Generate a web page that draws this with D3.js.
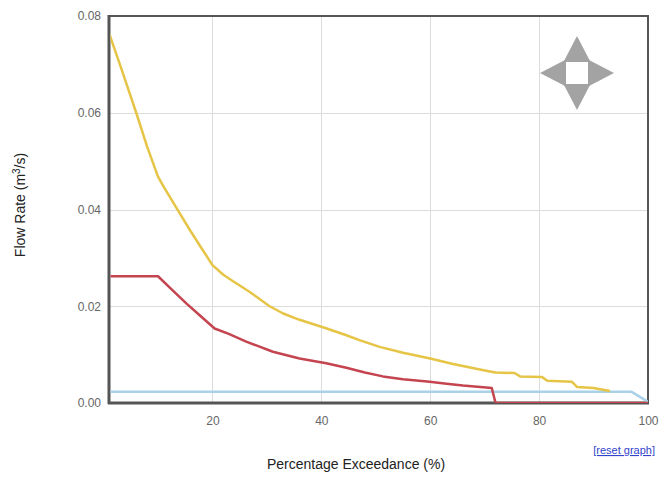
<!DOCTYPE html>
<html><head><meta charset="utf-8">
<script src="https://cdn.jsdelivr.net/npm/d3@7"></script>
<style>
html,body{margin:0;padding:0;background:#fff;}
svg{display:block;font-family:Arial,"Liberation Sans",sans-serif;}
</style></head>
<body><svg id="c" width="661" height="477"></svg>
<script>
// ---- data ----
const xTicks = [20, 40, 60, 80, 100];
const yTicks = [0, 0.02, 0.04, 0.06, 0.08];
const yellowX = [1, 3, 6, 8, 10, 11, 12.5, 14, 16, 18, 20, 22, 24, 26.8, 30.5, 33, 36, 41, 44.6, 47, 50.7, 55, 60, 64, 68, 70.5, 72, 75.5, 76.5, 80.5, 81.5, 86, 87, 90, 93];
const yellowY = [0.0765, 0.070, 0.060, 0.053, 0.0468, 0.0448, 0.042, 0.0392, 0.0355, 0.032, 0.0285, 0.0265, 0.025, 0.023, 0.020, 0.0185, 0.0172, 0.0154, 0.014, 0.013, 0.0116, 0.0104, 0.0092, 0.0081, 0.0072, 0.0066, 0.0063, 0.0062, 0.0055, 0.0054, 0.0046, 0.0044, 0.0033, 0.0031, 0.0025];
const redX = [1, 10, 12.5, 15.2, 17.6, 20.4, 23, 26.2, 31.1, 36, 40.9, 44.6, 48, 51.3, 55, 59.9, 63, 66, 70.3, 71.3, 72, 100];
const redY = [0.0262, 0.0262, 0.0235, 0.0206, 0.0182, 0.0154, 0.0143, 0.0127, 0.0106, 0.0092, 0.0082, 0.0073, 0.0063, 0.0055, 0.0049, 0.0044, 0.0040, 0.0036, 0.0032, 0.0031, 0.0, 0.0];
const blueX = [1, 97, 99.5, 100];
const blueY = [0.0023, 0.0023, 0.0006, 0.0003];
const series = [
  {name: "blue", xs: blueX, ys: blueY, color: "#a9d1e8"},
  {name: "yellow", xs: yellowX, ys: yellowY, color: "#e6c446"},
  {name: "red", xs: redX, ys: redY, color: "#c4444f"}
];

// ---- layout ----
const svg = d3.select("#c");
const L = 109, R = 648, T = 16, B = 403;
const x = d3.scaleLinear().domain([1, 100]).range([L, R]);
const y = d3.scaleLinear().domain([0, 0.08]).range([B, T]);

// gridlines
svg.append("g").selectAll("line").data(xTicks.filter(d => d < 100)).join("line")
  .attr("x1", d => Math.round(x(d)) + 0.5).attr("x2", d => Math.round(x(d)) + 0.5)
  .attr("y1", T).attr("y2", B).attr("stroke", "#dcdcdc").attr("stroke-width", 1);
svg.append("g").selectAll("line").data(yTicks.filter(d => d > 0 && d < 0.08)).join("line")
  .attr("y1", d => Math.round(y(d)) + 0.5).attr("y2", d => Math.round(y(d)) + 0.5)
  .attr("x1", L).attr("x2", R).attr("stroke", "#dcdcdc").attr("stroke-width", 1);

// frame
svg.append("rect").attr("x", L).attr("y", T).attr("width", R - L).attr("height", B - T)
  .attr("fill", "none").attr("stroke", "#555").attr("stroke-width", 2);
svg.append("line").attr("x1", L).attr("x2", L).attr("y1", T - 1).attr("y2", B + 1)
  .attr("stroke", "#555").attr("stroke-width", 3);
svg.append("line").attr("x1", L - 1).attr("x2", R + 1).attr("y1", B).attr("y2", B)
  .attr("stroke", "#555").attr("stroke-width", 3);

// lines
svg.append("clipPath").attr("id", "clp").append("rect")
  .attr("x", L + 1.5).attr("y", T).attr("width", R - L - 1.5).attr("height", B - T);
const line = d3.line().x(d => x(d[0])).y(d => y(d[1]));
svg.append("g").attr("clip-path", "url(#clp)").selectAll("path").data(series).join("path")
  .attr("d", s => line(s.xs.map((v, i) => [v, s.ys[i]])))
  .attr("fill", "none").attr("stroke", s => s.color).attr("stroke-width", 2.5)
  .attr("stroke-linejoin", "round");

// axes (labels only, via d3 axes)
const yAxis = svg.append("g").attr("transform", `translate(${L},0)`)
  .call(d3.axisLeft(y).tickValues(yTicks).tickFormat(d3.format(".2f")).tickSize(0).tickPadding(8));
yAxis.select(".domain").remove();
yAxis.selectAll("text").attr("fill", "#666").style("font-size", "12px");
const xAxis = svg.append("g").attr("transform", `translate(0,${B})`)
  .call(d3.axisBottom(x).tickValues(xTicks).tickFormat(d3.format("d")).tickSize(0).tickPadding(13));
xAxis.select(".domain").remove();
xAxis.selectAll("text").attr("fill", "#666").style("font-size", "12px");

// titles
svg.append("text").attr("x", 356).attr("y", 469).attr("text-anchor", "middle")
  .attr("fill", "#222").style("font-size", "14px").text("Percentage Exceedance (%)");
const yt = svg.append("text").attr("transform", "translate(25,205) rotate(-90)")
  .attr("text-anchor", "middle").attr("fill", "#222").style("font-size", "14px");
yt.append("tspan").text("Flow Rate (m");
yt.append("tspan").attr("dy", -5).style("font-size", "10px").text("3");
yt.append("tspan").attr("dy", 5).text("/s)");

// reset link
svg.append("text").attr("x", 655).attr("y", 454).attr("text-anchor", "end")
  .attr("fill", "#3344cc").style("font-size", "11px").style("text-decoration", "underline")
  .text("[reset graph]");

// pan control
const cx = 577, cy = 73, hs = 12, ap = 37, hb = 13;
const pan = svg.append("g").attr("fill", "#a3a3a3");
const tris = [
  [[cx - hb, cy - hs], [cx + hb, cy - hs], [cx, cy - ap]],
  [[cx - hb, cy + hs], [cx + hb, cy + hs], [cx, cy + ap]],
  [[cx - hs, cy - hb], [cx - hs, cy + hb], [cx - ap, cy]],
  [[cx + hs, cy - hb], [cx + hs, cy + hb], [cx + ap, cy]]
];
pan.selectAll("path").data(tris).join("path").attr("d", d => "M" + d.join("L") + "Z");
pan.append("rect").attr("x", cx - hs - 1).attr("y", cy - hs - 1).attr("width", 2 * hs + 2).attr("height", 2 * hs + 2).attr("fill", "#a3a3a3");
pan.append("rect").attr("x", cx - hs + 1).attr("y", cy - hs + 1).attr("width", 2 * hs - 2).attr("height", 2 * hs - 2).attr("fill", "#fff");
</script></body></html>
